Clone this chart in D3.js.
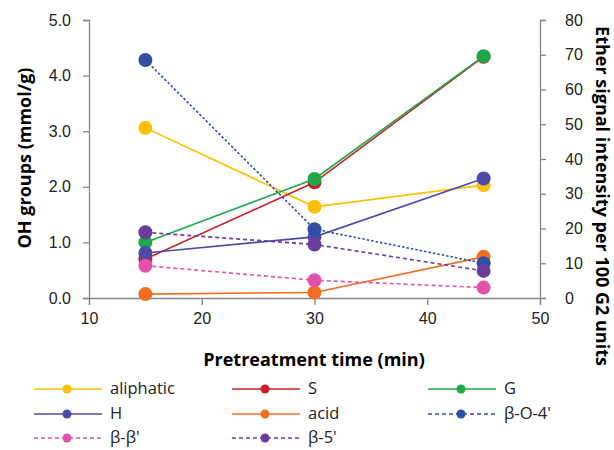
<!DOCTYPE html>
<html>
<head>
<meta charset="utf-8">
<script src="https://cdn.jsdelivr.net/npm/d3@7"></script>
<style>
  body { margin: 0; background: #fff; }
  svg { font-family: "Open Sans", sans-serif; }
</style>
</head>
<body>
<div class="container"></div>
<script>
// pretreatment times (min)
const times = [15, 30, 45];

// OH groups (mmol/g) - left axis
const aliphatic = [3.06, 1.64, 2.03];
const S = [0.70, 2.08, 4.34];
const G = [1.00, 2.14, 4.35];
const H = [0.81, 1.10, 2.15];
const acid = [0.07, 0.10, 0.74];

// ether signals per 100 G2 units - right axis
const bO4 = [68.5, 19.8, 10.0];
const bb = [9.3, 5.1, 3.0];
const b5 = [18.9, 15.4, 7.8];

const xTicks = [10, 20, 30, 40, 50];
const leftTicks = [0, 1, 2, 3, 4, 5];
const rightTicks = [0, 10, 20, 30, 40, 50, 60, 70, 80];

const series = [
  { name: "aliphatic", values: aliphatic, axis: "L", color: "#ffc000", dash: null },
  { name: "S", values: S, axis: "L", color: "#c8202a", dash: null },
  { name: "G", values: G, axis: "L", color: "#1fa84a", dash: null },
  { name: "H", values: H, axis: "L", color: "#4f4aaa", dash: null },
  { name: "acid", values: acid, axis: "L", color: "#f26c22", dash: null },
  { name: "β-O-4'", values: bO4, axis: "R", color: "#2f4fa8", dash: "2.5,2" },
  { name: "β-β'", values: bb, axis: "R", color: "#e052ac", dash: "4,3" },
  { name: "β-5'", values: b5, axis: "R", color: "#6a3c9e", dash: "4,3" }
];

const width = 614, height = 450;
const margin = { top: 20, right: 74, bottom: 152, left: 89 };

const svg = d3.select(".container").append("svg")
  .attr("width", width).attr("height", height);

const x = d3.scaleLinear().domain([10, 50]).range([margin.left, width - margin.right]);
const yL = d3.scaleLinear().domain([0, 5]).range([height - margin.bottom, margin.top]);
const yR = d3.scaleLinear().domain([0, 80]).range([height - margin.bottom, margin.top]);

const axisColor = "#868686";

function styleAxis(g) {
  g.selectAll("path, line").attr("stroke", axisColor).attr("stroke-width", 1.3);
  g.selectAll("text").attr("fill", "#222").style("font-size", "16px");
}

svg.append("g")
  .attr("transform", `translate(0,${height - margin.bottom})`)
  .call(d3.axisBottom(x).tickValues(xTicks).tickSizeOuter(0).tickSize(7).tickPadding(8))
  .call(styleAxis);

svg.append("g")
  .attr("transform", `translate(${margin.left},0)`)
  .call(d3.axisLeft(yL).tickValues(leftTicks).tickFormat(d3.format(".1f")).tickSize(6).tickSizeOuter(6).tickPadding(12))
  .call(styleAxis);

svg.append("g")
  .attr("transform", `translate(${width - margin.right},0)`)
  .call(d3.axisRight(yR).tickValues(rightTicks).tickSize(6).tickSizeOuter(6).tickPadding(19))
  .call(styleAxis);

// axis titles
svg.append("text")
  .attr("x", 314)
  .attr("y", 366)
  .attr("text-anchor", "middle")
  .style("font-size", "18px").style("font-weight", "bold")
  .text("Pretreatment time (min)");

svg.append("text")
  .attr("transform", "translate(31,158) rotate(-90)")
  .attr("text-anchor", "middle")
  .style("font-size", "18px").style("font-weight", "bold")
  .text("OH groups (mmol/g)");

svg.append("text")
  .attr("transform", "translate(596,196) rotate(90)")
  .attr("text-anchor", "middle")
  .style("font-size", "18px").style("font-weight", "bold")
  .text("Ether signal intensity per 100 G2 units");

// lines and markers
const plot = svg.append("g");
series.forEach(s => {
  const yS = s.axis === "L" ? yL : yR;
  const pts = times.map((t, i) => [t, s.values[i]]);
  const line = d3.line().x(d => x(d[0])).y(d => yS(d[1]));
  plot.append("path")
    .datum(pts)
    .attr("d", line)
    .attr("fill", "none")
    .attr("stroke", s.color)
    .attr("stroke-width", 1.6)
    .attr("stroke-dasharray", s.dash);
  plot.selectAll(null)
    .data(pts)
    .enter().append("circle")
    .attr("cx", d => x(d[0]))
    .attr("cy", d => yS(d[1]))
    .attr("r", 7)
    .attr("fill", s.color);
});

// legend
const colX = [34, 232, 428];
const rowY = [389, 414, 438];
const legend = svg.append("g");
series.forEach((s, i) => {
  const lx = colX[i % 3], ly = rowY[Math.floor(i / 3)];
  const g = legend.append("g").attr("transform", `translate(${lx},${ly})`);
  g.append("line")
    .attr("x1", 0).attr("x2", 68)
    .attr("stroke", s.color).attr("stroke-width", 1.6)
    .attr("stroke-dasharray", s.dash ? "4,3" : null);
  g.append("circle").attr("cx", 33).attr("r", 4.5).attr("fill", s.color);
  g.append("text")
    .attr("x", 76).attr("dy", "0.33em")
    .style("font-size", "16.5px").attr("fill", "#222")
    .text(s.name);
});
</script>
</body>
</html>
